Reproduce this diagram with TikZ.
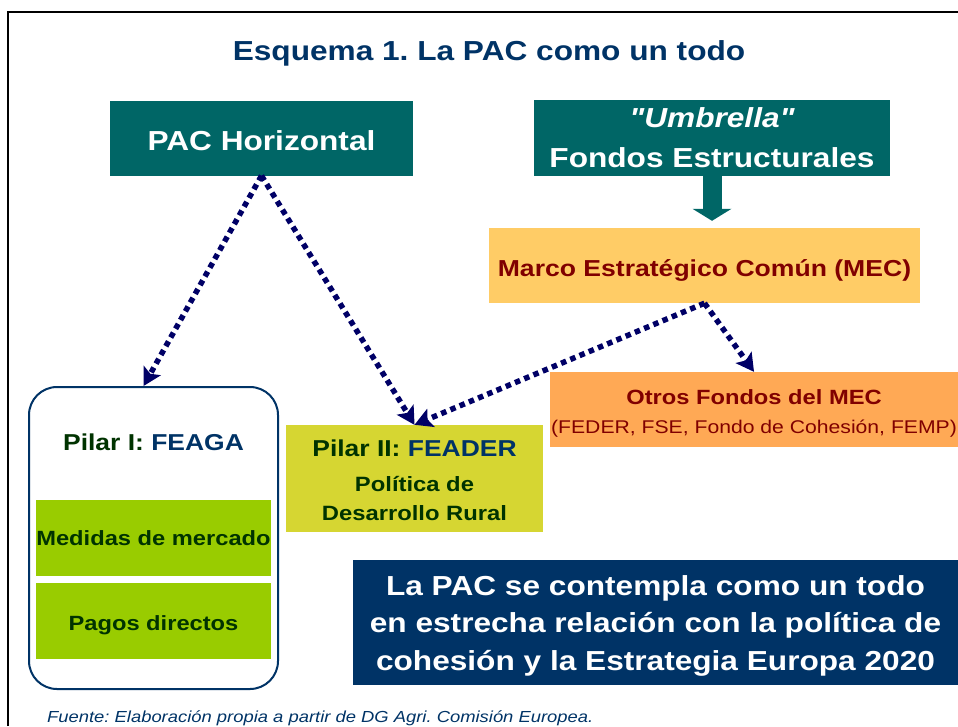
\documentclass[tikz,border=0pt]{standalone}
\usepackage{fontspec}
\setmainfont{Liberation Sans}[FakeStretch=1.15]
\newfontfamily\noligs{Liberation Sans}[FakeStretch=1.15, Ligatures=TeXOff]
\usetikzlibrary{arrows.meta}
\definecolor{cDark}{HTML}{003366}
\definecolor{cTeal}{HTML}{006666}
\definecolor{cMarco}{HTML}{FFCC66}
\definecolor{cOtros}{HTML}{FFA955}
\definecolor{cRed}{HTML}{800000}
\definecolor{cP2}{HTML}{D6D632}
\definecolor{cLime}{HTML}{99CC00}
\definecolor{cGreen}{HTML}{003300}
\definecolor{cArrow}{HTML}{000066}
\frenchspacing
\begin{document}
\begin{tikzpicture}[x=1pt,y=-1pt,
  tealbox/.style={fill=cTeal, text=white, inner sep=0pt, align=center,
    font=\bfseries\fontsize{27.5}{40}\selectfont},
  limebox/.style={fill=cLime, text=cGreen, inner sep=0pt, minimum width=235pt,
    minimum height=76pt, text height=15pt, text depth=0pt, font=\bfseries\fontsize{20.6}{25}\selectfont},
  dotarrow/.style={draw=cArrow, line width=5.5pt, dash pattern=on 5.5pt off 4.5pt,
    -{Stealth[length=18pt,width=20pt,inset=4pt,line width=0pt]}},
]
\useasboundingbox (0,0) rectangle (958,726);
% frame
\draw[line width=2pt] (8,726) -- (8,12) -- (958,12);
% title
\node[anchor=base, text=cDark, font=\bfseries\fontsize{27.5}{33}\selectfont] (title) at (489,60) {Esquema 1. La PAC como un todo};
% top boxes
\node[tealbox, minimum width=303pt, minimum height=75pt, text height=24pt, text depth=0pt] (pac) at (261.5,138) {PAC Horizontal};
\node[tealbox, minimum width=356pt, minimum height=76pt] (umb) at (712,138) {{\noligs\bfseries\itshape "Umbrella"}\\Fondos Estructurales};
% marco
\node[fill=cMarco, text=cRed, inner sep=0pt, minimum width=431pt, minimum height=75pt, text height=21pt, text depth=0pt,
  font=\bfseries\fontsize{23.1}{28}\selectfont] (marco) at (704.5,265.5) {Marco Estratégico Común (MEC)};
% otros
\node[fill=cOtros, text=cRed, inner sep=0pt, minimum width=408pt, minimum height=75pt, align=center,
  font=\fontsize{18.4}{29}\selectfont] (otros) at (754,409.5) {\rule{0pt}{22pt}{\bfseries\fontsize{20.6}{29}\selectfont Otros Fondos del MEC}\\(FEDER, FSE, Fondo de Cohesión, FEMP)};
% pilar II
\node[fill=cP2, text=cGreen, inner sep=0pt, minimum width=257pt, minimum height=107pt, align=center,
  font=\bfseries\fontsize{20.7}{29}\selectfont] (p2) at (414.5,478.5)
  {\rule{0pt}{21pt}{\fontsize{23}{29}\selectfont Pilar II: \textcolor{cDark}{FEADER}}\\[6pt]Política de\\Desarrollo Rural};
% pilar I
\node[draw=cDark, line width=2pt, rounded corners=28pt, fill=white, minimum width=249pt, minimum height=302pt] (p1) at (153.5,538) {};
\node[anchor=base, text=cGreen, font=\bfseries\fontsize{23}{28}\selectfont] (p1t) at (153.5,450) {Pilar I: \textcolor{cDark}{FEAGA}};
\node[limebox] (med) at (153.5,538) {Medidas de mercado};
\node[limebox, text height=19pt] (pag) at (153.5,621) {Pagos directos};
% big statement
\node[fill=cDark, text=white, inner sep=0pt, minimum width=605pt, minimum height=125pt, align=center,
  font=\bfseries\fontsize{27.5}{37.5}\selectfont] (big) at (655.5,622.5)
  {\rule{0pt}{26pt}La PAC se contempla como un todo\\en estrecha relación con la política de\\cohesión y la Estrategia Europa 2020};
% footnote
\node[anchor=base west, inner sep=0pt, text=cDark, font=\itshape\fontsize{16}{19}\selectfont] (src) at (47,722)
  {Fuente: Elaboración propia a partir de DG Agri. Comisión Europea.};
% block arrow
\draw[draw=cTeal, line width=19pt, -{Triangle[length=12pt,width=39pt,line width=0pt]}, shorten >=7pt]
  (umb.south) -- (umb.south |- marco.north);
% dotted arrows
\draw[dotarrow] (pac.south) -- ([xshift=-10pt]p1.north);
\draw[dotarrow] (pac.south) -- (p2.north);
\draw[dotarrow] (marco.south) -- (p2.north);
\draw[dotarrow] (marco.south) -- (otros.north);
\end{tikzpicture}
\end{document}
